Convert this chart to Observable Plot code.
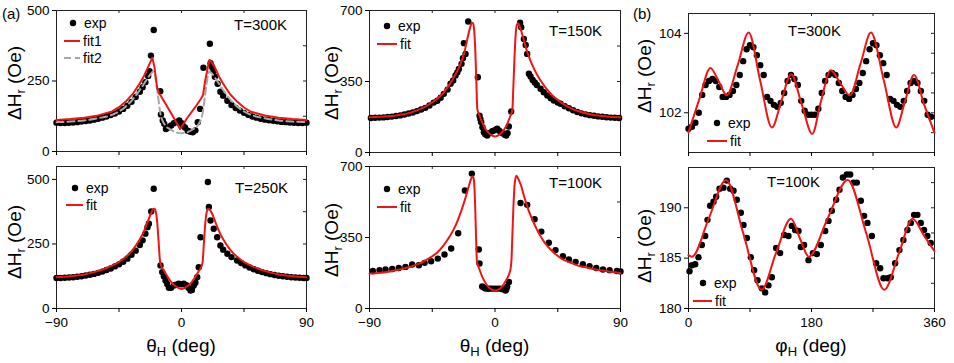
<!DOCTYPE html>
<html><head><meta charset="utf-8">
<script src="https://cdn.jsdelivr.net/npm/d3@7"></script>
<script src="https://cdn.jsdelivr.net/npm/@observablehq/plot@0.6"></script>
<style>
body{margin:0;background:#fff;}
#fig{position:relative;width:954px;height:363px;overflow:hidden;background:#fff}
#fig svg{position:absolute;left:0;top:0;background:transparent;overflow:visible}
</style></head><body><div id="fig"></div>
<script>
// ---------- DATA (theta in deg, ΔHr in Oe) ----------
const thetaTicks = [-90, -45, 0, 45, 90];
const thetaLabels = [-90, 0, 90];
const phiTicks = [0, 90, 180, 270, 360];
const phiLabels = [0, 180, 360];

const exp300 = [[-90,102],[-87,101],[-84,101],[-81,102],[-78,103],[-75,104],[-72,106],[-69,108],[-66,110],[-63,113],[-60,116],[-57,120],[-54,124],[-51,129],[-48,135],[-45,142],[-42,151],[-39,162],[-36,176],[-33,193],[-30,212],[-28,228],[-26,246],[-24,268],[-23,285],[-22,340],[-20,431],
[-15.3,214],[-14.8,131],[-13.5,110],[-12.4,98],[-11.2,80],[-9.5,85],[-7.5,92],[-5.5,100],[-3.5,105],[-1.6,110],[0,100],[0.9,92],[2.5,85],[4.5,74],[6.3,70],[8.1,68],[10,75],[11.7,104],[13.4,151],[15.8,297],[20.4,382],[20.9,313],
[22,300],[23,285],[24,265],[26,240],[28,212],[30,198],[33,180],[36,165],[39,154],[42,145],[45,137],[48,130],[51,124],[54,120],[57,116],[60,113],[63,111],[66,109],[69,107],[72,105],[75,104],[78,103],[81,102],[84,101],[87,101],[90,102]];
const fit1_300 = [[-90,112],[-80,115],[-70,120],[-60,128],[-50,142],[-45,157],[-40,178],[-35,205],[-30,242],[-27,268],[-24,300],[-21,333],[-19.5,300],[-17.5,225],[-16,204],[-15,199],[-8,140],[-1,80],[4,118],[10,158],[14,187],[15.5,200],[17,250],[19,300],[20.2,325],[21,322],[24,298],[27,266],[30,240],[35,203],[40,177],[45,156],[50,141],[60,128],[70,120],[80,115],[90,112]];
const fit2_300 = [[-90,104],[-80,106],[-70,110],[-60,118],[-50,130],[-45,142],[-40,160],[-35,185],[-30,218],[-25,255],[-22,276],[-20,284],[-19,268],[-17,200],[-15,130],[-12,95],[-8,78],[-4,68],[0,65],[4,68],[8,78],[12,95],[15,130],[17,200],[19,268],[20,284],[22,276],[25,255],[30,218],[35,185],[40,160],[45,142],[50,130],[60,118],[70,110],[80,106],[90,104]];

const exp250 = [[-90,118],[-87,118],[-84,119],[-81,120],[-78,121],[-75,123],[-72,125],[-69,128],[-66,131],[-63,134],[-60,138],[-57,143],[-54,149],[-51,155],[-48,163],[-45,171],[-42,181],[-39,193],[-36,208],[-33,224],[-30,246],[-28,264],[-26,290],[-24.5,315],[-23.5,328],[-21.8,376],[-20,464],
[-15.1,167],[-13.9,141],[-12.7,125],[-11.5,108],[-10.3,95],[-9.1,80],[-7.5,80],[-5.5,89],[-4,92],[-2,96],[0,94],[1.6,96],[3.5,90],[5,80],[6.5,70],[7.5,72],[8.8,89],[10,100],[11.3,121],[12.4,160],[13.7,276],[19,490],[19.7,393],[20.9,341],
[23.2,309],[25.7,276],[28,244],[30,228],[33,212],[36,199],[40,186],[43,176],[46,167],[49,159],[52,152],[55,146],[58,141],[61,137],[64,133],[67,130],[70,127],[73,125],[76,123],[79,121],[82,120],[85,119],[88,118],[90,118]];
const fit250 = [[-90,121],[-80,125],[-70,132],[-63,141],[-55,155],[-50,166],[-45,180],[-40,200],[-35,228],[-30,268],[-27,300],[-24,340],[-22,368],[-20.5,384],[-19.5,386],[-18.5,375],[-17.5,335],[-16.5,260],[-15.5,185],[-15,170],[-13,150],[-10,123],[-7,100],[-4,85],[0,76],[4,85],[7,100],[10,123],[13,150],[14.5,165],[15.3,185],[16.2,260],[17.2,335],[18.2,375],[19.2,386],[20.2,384],[22,368],[24,340],[27,300],[30,268],[35,228],[40,200],[45,180],[50,166],[55,155],[63,141],[70,132],[80,125],[90,121]];

const exp150 = [[-89,170],[-86,171],[-83,172],[-80,173],[-77,175],[-74,177],[-71,180],[-68,183],[-65,187],[-62,192],[-59,197],[-56,204],[-53,212],[-50,220],[-47,232],[-44,246],[-41.4,255],[-39,270],[-36.7,289],[-34,310],[-31.9,339],[-30,355],[-28.3,380],[-27,395],[-25.9,412],[-24,437],[-23,465],[-22.3,539],[-21.1,486],[-19.2,646],
[-12.3,371],[-11.1,182],[-10.5,165],[-9.9,149],[-9,125],[-8,100],[-7,90],[-5.6,84],[-4,95],[-2,105],[-0.8,108],[0.5,112],[1.6,117],[3,108],[4,100],[5.5,95],[7,88],[8,84],[9,95],[9.9,128],[11.6,202],
[18,640],[18.8,618],[20.7,560],[22,530],[23.1,486],[24.3,388],[25.5,375],[27,358],[28.5,345],[30,333],[32.7,314],[35,297],[37.5,281],[40,268],[42.2,256],[45,246],[47,240],[50,228],[53,218],[56,208],[59,200],[62,193],[65,188],[68,184],[71,181],[74,178],[77,176],[80,174],[83,172],[86,171],[89,170]];
const fit150 = [[-90,174],[-80,177],[-70,184],[-60,198],[-55,210],[-50,226],[-46,243],[-41,268],[-36,303],[-32,342],[-28,390],[-25,432],[-22,492],[-20,555],[-18,612],[-16.5,640],[-15.6,635],[-14.8,590],[-14,480],[-13.3,330],[-12.7,215],[-11,180],[-8,130],[-5,100],[-2,83],[0,79],[2,83],[5,100],[8,130],[11,180],[12.4,207],[13.2,330],[14,470],[14.8,580],[15.7,630],[16.7,637],[18,615],[20,572],[22,520],[25,460],[28,412],[32,362],[36,322],[41,282],[46,254],[50,235],[55,216],[60,203],[70,186],[80,178],[90,174]];

const exp100 = [[-87.6,185],[-82.8,189],[-78.5,192],[-73.7,195],[-69,200],[-64.2,205],[-59.4,217],[-54.6,213],[-50.5,225],[-45.8,233],[-41,246],[-36.2,266],[-31.4,296],[-26.4,371],[-21.6,582],[-16.6,665],[-11.6,291],[-11.1,222],[-9.2,109],[-8,103],[-6.8,98],[-5,97],[-3.4,98],[-1.7,98],[0,98],[1.8,98],[3.6,98],[5.4,95],[7.6,89],[8.2,96],[8.8,109],[10,131],
[18.3,520],[23.1,511],[28.4,440],[33.2,379],[38.6,324],[43.4,288],[48.7,258],[53,242],[57.8,230],[63,218],[67.8,209],[72.6,200],[77.4,192],[82.2,189],[87.4,185],[90,183]];
const fit100 = [[-90,172],[-80,178],[-70,190],[-60,207],[-54,222],[-48,245],[-42,272],[-37,310],[-33,350],[-30,385],[-27,430],[-24,485],[-21,550],[-18.5,610],[-16.8,645],[-15.8,652],[-15,625],[-14.2,500],[-13.5,330],[-13,238],[-11,190],[-8,140],[-5,108],[-2,92],[0,89],[2,92],[5,108],[8,140],[11,190],[11.8,238],[12.4,350],[13.2,500],[14.2,620],[15.3,655],[16.3,645],[18.5,610],[21,550],[24,485],[27,435],[30,390],[33,352],[37,312],[41.5,280],[48,245],[53.5,228],[60,210],[65,203],[70,195],[77,187],[90,174]];

// phi in deg
const expPhi300 = [[0,101.6],[5,101.65],[10,101.75],[15,102.0],[20,102.45],[25,102.7],[30,102.8],[35,102.85],[40,102.8],[45,102.65],[50,102.4],[55,102.4],[60,102.45],[65,102.55],[70,102.7],[75,102.95],[80,103.3],[85,103.6],[90,103.7],[95,103.65],[100,103.45],[105,103.2],[110,102.95],[115,102.4],[120,102.3],[125,102.2],[130,102.15],[135,102.25],[140,102.5],[145,102.8],[150,102.95],[155,102.85],[160,102.7],[165,102.3],[170,102.05],[175,101.95],[180,101.95],[185,101.95],[190,102.1],[195,102.5],[200,102.8],[205,102.95],[210,103.0],[215,102.95],[220,102.75],[225,102.55],[230,102.4],[235,102.35],[240,102.45],[245,102.6],[250,102.75],[255,103.0],[260,103.3],[265,103.6],[270,103.75],[275,103.7],[280,103.45],[285,103.25],[290,102.95],[295,102.35],[300,102.3],[305,102.2],[310,102.15],[315,102.3],[320,102.55],[325,102.75],[330,102.8],[335,102.75],[340,102.55],[345,102.3],[350,101.95],[355,101.9]];
const fitPhi300 = [[0,101.5],[16,102.35],[32,103.13],[44,102.8],[56,102.44],[72,103.2],[88,104.02],[105,102.8],[122,101.63],[136,102.3],[150,102.97],[166,102.2],[181,101.47],[194,102.3],[208,103.07],[222,102.75],[236,102.44],[252,103.25],[267,104.02],[286,102.8],[304,101.63],[317,102.3],[330,102.95],[345,102.2],[360,101.5]];

const expPhi100 = [[1.5,183.7],[4.9,184.3],[9.8,184.4],[14.6,185.1],[19.5,186.3],[24.4,187.2],[27.8,188.8],[31.7,190.2],[36.6,190.6],[40.5,191.1],[45.4,191.9],[51.2,192.0],[56.1,192.7],[61,191.9],[65.9,191.7],[70.7,190.8],[76.6,189.5],[80.5,188.3],[85.4,187.0],[91.2,185.1],[96.1,183.8],[101,182.8],[107.3,182.0],[112.2,181.6],[117,182.3],[122,183.1],[128.3,186.0],[134.1,185.5],[140,187.3],[146.3,187.2],[151.2,188.2],[156.1,187.8],[161,187.7],[164.4,186.1],[169.2,186.3],[175.6,184.8],[182,185.5],[187.8,185.4],[193.6,186.3],[200,187.7],[204.9,188.7],[209.8,189.7],[216.1,190.8],[221,191.8],[225.9,193.0],[231.7,193.3],[236.6,193.3],[241.5,192.5],[246.3,192.5],[252.2,190.7],[257,189.2],[261.9,188.5],[268.3,187.2],[274.6,184.5],[280.5,184.0],[285.3,183.0],[291.2,183.0],[296,183.1],[302.4,184.5],[308.7,185.8],[314.5,186.8],[320.4,187.8],[325.3,188.5],[330.1,189.3],[335,189.3],[339.9,188.5],[344.7,187.8],[349.6,187.2],[354.5,186.5]];
const fitPhi100 = [[0,185.3],[5,185.15],[30,189.0],[55,192.77],[80,187.5],[107,181.86],[128,185.5],[150,188.9],[164,186.8],[176,185.15],[204,189.0],[233,192.77],[260,187.5],[286.5,181.86],[308,185.5],[328,188.9],[345,187.2],[360,185.7]];

// ---------- DRAWING ----------
const W = 954, H = 363;
const FONT = "'Liberation Sans', Arial, Helvetica, sans-serif";
const RED = "#f01414";
const fig = document.getElementById("fig");

function fmt(labels) { return d => labels.includes(d) ? String(d).replace("-", "\u2212") : ""; }

function panel(cfg) {
  const [x0, x1, y0, y1] = cfg.frame;
  const iw = x1 - x0, ih = y1 - y0;
  const marks = [
    Plot.frame({stroke: "#222"}),
    Plot.tickX(cfg.xticks, {x: d => d, insetBottom: ih - 3, stroke: "#222"}),
    Plot.tickY(cfg.yminor, {y: d => d, insetLeft: iw - 3, stroke: "#222"}),
    Plot.axisX({ticks: cfg.xticks, anchor: "bottom", tickSize: 4, tickPadding: 5, tickFormat: fmt(cfg.showX ? cfg.xlabels : []), fontSize: 13.5, label: null, fill: "#000"}),
    Plot.axisY({ticks: cfg.yticks, anchor: "left", tickSize: 4, tickPadding: 3, tickFormat: fmt(cfg.yticks), fontSize: 13.5, label: null, fill: "#000"}),
    Plot.dot(cfg.exp, {x: d => d[0], y: d => d[1], r: 3.2, fill: "#000"})
  ];
  if (cfg.fit2) marks.push(Plot.line(cfg.fit2, {x: d => d[0], y: d => d[1], stroke: "#a8a8a8", strokeWidth: 2, strokeDasharray: "7,4", curve: "monotone-x"}));
  marks.push(Plot.line(cfg.fit, {x: d => d[0], y: d => d[1], stroke: RED, strokeWidth: 2, curve: cfg.curve || "monotone-x"}));
  const svg = Plot.plot({
    width: W, height: H,
    marginLeft: x0, marginRight: W - x1, marginTop: y0, marginBottom: H - y1,
    x: {domain: cfg.xdom}, y: {domain: cfg.ydom},
    style: {background: "transparent", fontFamily: FONT, color: "#000", overflow: "visible"},
    marks
  });
  fig.appendChild(svg);
}

panel({frame: [56, 306, 10, 151], xdom: [-90, 90], ydom: [0, 500], xticks: thetaTicks, xlabels: thetaLabels, showX: false,
  yticks: [0, 250, 500], yminor: [125, 250, 375], exp: exp300, fit: fit1_300, fit2: fit2_300, curve: "linear"});
panel({frame: [56, 306, 166, 308], xdom: [-90, 90], ydom: [0, 550], xticks: thetaTicks, xlabels: thetaLabels, showX: true,
  yticks: [0, 250, 500], yminor: [125, 250, 375, 500], exp: exp250, fit: fit250});
panel({frame: [369, 620, 10, 152], xdom: [-90, 90], ydom: [0, 700], xticks: thetaTicks, xlabels: thetaLabels, showX: false,
  yticks: [0, 350, 700], yminor: [175, 350, 525], exp: exp150, fit: fit150});
panel({frame: [369, 620, 166, 308], xdom: [-90, 90], ydom: [0, 700], xticks: thetaTicks, xlabels: thetaLabels, showX: true,
  yticks: [0, 350, 700], yminor: [175, 350, 525], exp: exp100, fit: fit100});
panel({frame: [688, 934, 13, 152], xdom: [0, 360], ydom: [101, 104.5], xticks: phiTicks, xlabels: phiLabels, showX: false,
  yticks: [102, 104], yminor: [101.5, 102, 102.5, 103, 103.5, 104], exp: expPhi300, fit: fitPhi300});
panel({frame: [688, 934, 167, 308], xdom: [0, 360], ydom: [180, 194], xticks: phiTicks, xlabels: phiLabels, showX: true,
  yticks: [180, 185, 190], yminor: [182.5, 185, 187.5, 190, 192.5], exp: expPhi100, fit: fitPhi100});

// ---------- TEXT OVERLAY ----------
const ov = d3.select(fig).append("svg").attr("width", W).attr("height", H)
  .style("font-family", FONT).style("fill", "#000");

function ytitle(x, y) {
  const t = ov.append("text").attr("transform", `translate(${x},${y}) rotate(-90)`)
    .attr("text-anchor", "middle").attr("font-size", 19);
  t.append("tspan").text("\u0394H");
  t.append("tspan").attr("font-size", 13).attr("dy", 4).text("r");
  t.append("tspan").attr("dy", -4).text(" (Oe)");
}
function xtitle(x, y, sym) {
  const t = ov.append("text").attr("x", x).attr("y", y).attr("text-anchor", "middle").attr("font-size", 19);
  t.append("tspan").text(sym);
  t.append("tspan").attr("font-size", 13).attr("dy", 4).text("H");
  t.append("tspan").attr("dy", -4).text(" (deg)");
}
[[21, 83], [21, 242], [338, 83], [338, 240], [651, 76], [651, 246]].forEach(([x, y]) => ytitle(x, y));
xtitle(181, 352, "\u03b8");
xtitle(494.5, 352, "\u03b8");
xtitle(811, 352, "\u03c6");

ov.append("text").attr("x", 2).attr("y", 19).attr("font-size", 15).text("(a)");
ov.append("text").attr("x", 633).attr("y", 19).attr("font-size", 15).text("(b)");

const tlabels = [
  {t: "T=300K", x: 287, y: 30, a: "end"}, {t: "T=250K", x: 288, y: 193, a: "end"},
  {t: "T=150K", x: 602, y: 36, a: "end"}, {t: "T=100K", x: 602, y: 188, a: "end"},
  {t: "T=300K", x: 788, y: 36, a: "start"}, {t: "T=100K", x: 767, y: 187, a: "start"}
];
tlabels.forEach(d => ov.append("text").attr("x", d.x).attr("y", d.y).attr("text-anchor", d.a).attr("font-size", 15).text(d.t));

const legends = [
  {dot: [73, 23], lines: [{x: [64, 80], y: 41, lab: "fit1"}, {x: [64, 80], y: 58, lab: "fit2", dash: true}]},
  {dot: [75, 188], lines: [{x: [66, 83], y: 205, lab: "fit"}]},
  {dot: [387, 26], lines: [{x: [377, 397], y: 44, lab: "fit"}]},
  {dot: [387, 189], lines: [{x: [377, 397], y: 207, lab: "fit"}]},
  {dot: [717, 123], lines: [{x: [707, 727], y: 141, lab: "fit"}]},
  {dot: [703, 283], lines: [{x: [693, 712], y: 301, lab: "fit"}]}
];
legends.forEach(L => {
  ov.append("circle").attr("cx", L.dot[0]).attr("cy", L.dot[1]).attr("r", 3.2).attr("fill", "#000");
  ov.append("text").attr("x", L.dot[0] + 11).attr("y", L.dot[1] + 5).attr("font-size", 14).text("exp");
  L.lines.forEach(l => {
    ov.append("line").attr("x1", l.x[0]).attr("x2", l.x[1]).attr("y1", l.y).attr("y2", l.y)
      .attr("stroke", l.dash ? "#a8a8a8" : RED).attr("stroke-width", 2).attr("stroke-dasharray", l.dash ? "7,4" : null);
    ov.append("text").attr("x", l.x[1] + 3).attr("y", l.y + 5).attr("font-size", 14).text(l.lab);
  });
});
</script></body></html>
